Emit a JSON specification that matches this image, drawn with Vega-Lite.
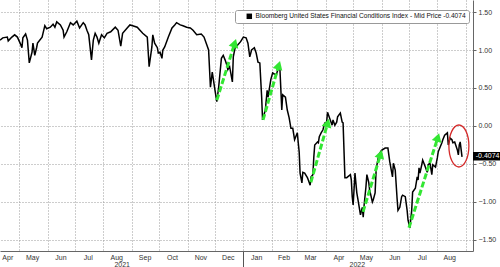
{
  "$schema": "https://vega.github.io/schema/vega-lite/v6.json",
  "width": 473,
  "height": 251,
  "autosize": {"type": "none"},
  "padding": {"left": 0, "top": 0, "right": 27, "bottom": 16},
  "background": "white",
  "config": {"view": {"stroke": null}, "font": "Liberation Sans"},
  "datasets": {
    "fci": [
      {"d":"2021-04-10","v":1.13},{"d":"2021-04-13","v":1.16},{"d":"2021-04-18","v":1.17},{"d":"2021-04-19","v":1.12},{"d":"2021-04-23","v":1.17},{"d":"2021-04-26","v":1.20},{"d":"2021-04-29","v":1.17},{"d":"2021-05-02","v":1.09},{"d":"2021-05-04","v":1.03},{"d":"2021-05-05","v":1.16},{"d":"2021-05-08","v":1.21},{"d":"2021-05-10","v":1.13},{"d":"2021-05-12","v":0.83},{"d":"2021-05-15","v":0.97},{"d":"2021-05-16","v":1.09},{"d":"2021-05-18","v":0.93},{"d":"2021-05-20","v":1.03},{"d":"2021-05-21","v":1.09},{"d":"2021-05-26","v":1.17},{"d":"2021-05-29","v":1.32},{"d":"2021-05-31","v":1.28},{"d":"2021-06-04","v":1.30},{"d":"2021-06-07","v":1.34},{"d":"2021-06-09","v":1.30},{"d":"2021-06-11","v":1.37},{"d":"2021-06-15","v":1.33},{"d":"2021-06-18","v":1.26},{"d":"2021-06-19","v":1.17},{"d":"2021-06-22","v":1.24},{"d":"2021-06-26","v":1.36},{"d":"2021-06-29","v":1.33},{"d":"2021-07-03","v":1.38},{"d":"2021-07-06","v":1.29},{"d":"2021-07-10","v":1.36},{"d":"2021-07-12","v":1.33},{"d":"2021-07-14","v":1.26},{"d":"2021-07-16","v":1.20},{"d":"2021-07-19","v":0.87},{"d":"2021-07-21","v":1.13},{"d":"2021-07-23","v":1.22},{"d":"2021-07-25","v":1.17},{"d":"2021-07-27","v":1.09},{"d":"2021-07-30","v":1.20},{"d":"2021-08-02","v":1.16},{"d":"2021-08-05","v":1.22},{"d":"2021-08-09","v":1.24},{"d":"2021-08-14","v":1.30},{"d":"2021-08-17","v":1.26},{"d":"2021-08-20","v":1.05},{"d":"2021-08-22","v":1.22},{"d":"2021-08-27","v":1.29},{"d":"2021-08-30","v":1.33},{"d":"2021-09-02","v":1.32},{"d":"2021-09-07","v":1.30},{"d":"2021-09-10","v":1.26},{"d":"2021-09-13","v":1.22},{"d":"2021-09-18","v":1.17},{"d":"2021-09-20","v":0.78},{"d":"2021-09-23","v":1.04},{"d":"2021-09-24","v":1.20},{"d":"2021-09-26","v":1.09},{"d":"2021-09-29","v":1.03},{"d":"2021-09-30","v":0.96},{"d":"2021-10-02","v":0.97},{"d":"2021-10-04","v":0.89},{"d":"2021-10-05","v":1.00},{"d":"2021-10-07","v":1.04},{"d":"2021-10-11","v":1.17},{"d":"2021-10-15","v":1.29},{"d":"2021-10-18","v":1.33},{"d":"2021-10-20","v":1.36},{"d":"2021-10-24","v":1.33},{"d":"2021-10-27","v":1.32},{"d":"2021-10-31","v":1.30},{"d":"2021-11-04","v":1.29},{"d":"2021-11-07","v":1.26},{"d":"2021-11-11","v":1.20},{"d":"2021-11-16","v":1.21},{"d":"2021-11-19","v":1.17},{"d":"2021-11-22","v":1.07},{"d":"2021-11-24","v":1.00},{"d":"2021-11-26","v":0.51},{"d":"2021-11-28","v":0.71},{"d":"2021-11-29","v":0.63},{"d":"2021-12-01","v":0.47},{"d":"2021-12-03","v":0.32},{"d":"2021-12-05","v":0.51},{"d":"2021-12-08","v":0.89},{"d":"2021-12-10","v":0.93},{"d":"2021-12-12","v":0.87},{"d":"2021-12-14","v":0.80},{"d":"2021-12-15","v":0.74},{"d":"2021-12-17","v":0.78},{"d":"2021-12-20","v":0.58},{"d":"2021-12-21","v":0.91},{"d":"2021-12-23","v":1.03},{"d":"2021-12-26","v":1.07},{"d":"2021-12-29","v":1.11},{"d":"2022-01-01","v":1.17},{"d":"2022-01-04","v":1.16},{"d":"2022-01-06","v":1.09},{"d":"2022-01-08","v":0.91},{"d":"2022-01-10","v":1.00},{"d":"2022-01-13","v":1.03},{"d":"2022-01-15","v":0.96},{"d":"2022-01-17","v":0.84},{"d":"2022-01-19","v":0.83},{"d":"2022-01-21","v":0.38},{"d":"2022-01-22","v":0.08},{"d":"2022-01-25","v":0.21},{"d":"2022-01-27","v":0.47},{"d":"2022-01-28","v":0.38},{"d":"2022-01-31","v":0.61},{"d":"2022-02-02","v":0.70},{"d":"2022-02-06","v":0.67},{"d":"2022-02-08","v":0.76},{"d":"2022-02-10","v":0.74},{"d":"2022-02-12","v":0.21},{"d":"2022-02-13","v":0.41},{"d":"2022-02-16","v":0.38},{"d":"2022-02-18","v":0.21},{"d":"2022-02-20","v":0.11},{"d":"2022-02-22","v":-0.03},{"d":"2022-02-24","v":-0.03},{"d":"2022-02-26","v":-0.18},{"d":"2022-03-01","v":-0.09},{"d":"2022-03-02","v":-0.22},{"d":"2022-03-03","v":-0.34},{"d":"2022-03-04","v":-0.62},{"d":"2022-03-06","v":-0.75},{"d":"2022-03-07","v":-0.61},{"d":"2022-03-09","v":-0.62},{"d":"2022-03-12","v":-0.68},{"d":"2022-03-13","v":-0.71},{"d":"2022-03-15","v":-0.78},{"d":"2022-03-16","v":-0.67},{"d":"2022-03-18","v":-0.64},{"d":"2022-03-19","v":-0.41},{"d":"2022-03-20","v":-0.25},{"d":"2022-03-23","v":-0.21},{"d":"2022-03-24","v":-0.22},{"d":"2022-03-25","v":-0.14},{"d":"2022-03-27","v":-0.09},{"d":"2022-03-29","v":-0.05},{"d":"2022-03-31","v":0.04},{"d":"2022-04-02","v":0.05},{"d":"2022-04-03","v":0.18},{"d":"2022-04-06","v":0.08},{"d":"2022-04-08","v":0.01},{"d":"2022-04-09","v":0.08},{"d":"2022-04-11","v":0.01},{"d":"2022-04-13","v":0.05},{"d":"2022-04-14","v":0.12},{"d":"2022-04-17","v":0.17},{"d":"2022-04-18","v":0.11},{"d":"2022-04-19","v":0.05},{"d":"2022-04-20","v":0.04},{"d":"2022-04-22","v":-0.68},{"d":"2022-04-24","v":-0.68},{"d":"2022-04-25","v":-0.67},{"d":"2022-04-28","v":-0.64},{"d":"2022-04-29","v":-0.71},{"d":"2022-04-30","v":-0.93},{"d":"2022-05-01","v":-1.04},{"d":"2022-05-03","v":-0.62},{"d":"2022-05-05","v":-0.88},{"d":"2022-05-06","v":-0.95},{"d":"2022-05-09","v":-1.17},{"d":"2022-05-11","v":-1.07},{"d":"2022-05-12","v":-1.20},{"d":"2022-05-13","v":-1.04},{"d":"2022-05-15","v":-0.80},{"d":"2022-05-16","v":-0.64},{"d":"2022-05-18","v":-0.74},{"d":"2022-05-19","v":-0.84},{"d":"2022-05-22","v":-1.00},{"d":"2022-05-23","v":-0.97},{"d":"2022-05-25","v":-0.88},{"d":"2022-05-26","v":-0.61},{"d":"2022-05-27","v":-0.51},{"d":"2022-05-29","v":-0.38},{"d":"2022-06-01","v":-0.32},{"d":"2022-06-05","v":-0.29},{"d":"2022-06-08","v":-0.29},{"d":"2022-06-10","v":-0.47},{"d":"2022-06-13","v":-0.67},{"d":"2022-06-14","v":-0.49},{"d":"2022-06-16","v":-0.58},{"d":"2022-06-18","v":-0.95},{"d":"2022-06-19","v":-1.11},{"d":"2022-06-21","v":-1.07},{"d":"2022-06-23","v":-0.93},{"d":"2022-06-24","v":-0.91},{"d":"2022-06-27","v":-0.93},{"d":"2022-06-29","v":-1.11},{"d":"2022-06-30","v":-1.24},{"d":"2022-07-02","v":-1.34},{"d":"2022-07-04","v":-1.11},{"d":"2022-07-05","v":-0.87},{"d":"2022-07-08","v":-0.82},{"d":"2022-07-10","v":-0.67},{"d":"2022-07-11","v":-0.71},{"d":"2022-07-12","v":-0.55},{"d":"2022-07-13","v":-0.62},{"d":"2022-07-15","v":-0.51},{"d":"2022-07-16","v":-0.45},{"d":"2022-07-18","v":-0.51},{"d":"2022-07-21","v":-0.61},{"d":"2022-07-22","v":-0.51},{"d":"2022-07-24","v":-0.49},{"d":"2022-07-26","v":-0.64},{"d":"2022-07-27","v":-0.51},{"d":"2022-07-30","v":-0.54},{"d":"2022-08-01","v":-0.42},{"d":"2022-08-02","v":-0.34},{"d":"2022-08-04","v":-0.28},{"d":"2022-08-06","v":-0.22},{"d":"2022-08-07","v":-0.18},{"d":"2022-08-09","v":-0.12},{"d":"2022-08-12","v":-0.09},{"d":"2022-08-13","v":-0.25},{"d":"2022-08-15","v":-0.16},{"d":"2022-08-17","v":-0.18},{"d":"2022-08-18","v":-0.22},{"d":"2022-08-20","v":-0.21},{"d":"2022-08-23","v":-0.32},{"d":"2022-08-24","v":-0.38},{"d":"2022-08-25","v":-0.25},{"d":"2022-08-26","v":-0.21},{"d":"2022-08-28","v":-0.4074}
    ],
    "arrows": [
      {"d":"2021-12-03T00:00:00Z","v":0.34,"d2":"2021-12-22T14:00:00Z","v2":1.09},
      {"d":"2022-01-22T12:00:00Z","v":0.08,"d2":"2022-02-08T17:00:00Z","v2":0.80},
      {"d":"2022-03-15T19:00:00Z","v":-0.74,"d2":"2022-04-03T05:00:00Z","v2":0.04},
      {"d":"2022-05-11T19:00:00Z","v":-1.13,"d2":"2022-05-31T00:00:00Z","v2":-0.37},
      {"d":"2022-07-01T00:00:00Z","v":-1.34,"d2":"2022-08-01T14:00:00Z","v2":-0.15}
    ],
    "heads": [
      {"d":"2021-12-22T14:00:00Z","v":1.09},
      {"d":"2022-02-08T17:00:00Z","v":0.80},
      {"d":"2022-04-03T05:00:00Z","v":0.04},
      {"d":"2022-05-31T00:00:00Z","v":-0.37},
      {"d":"2022-08-01T14:00:00Z","v":-0.15}
    ],
    "marker": [{"d":"2022-08-24T14:00:00Z","v":-0.263}],
    "lastbox": [{"d":"2022-09-09T00:00:00Z","d2":"2022-10-10T00:00:00Z","v":-0.342,"v2":-0.454}],
    "lasttext": [{"d":"2022-09-12T00:00:00Z","v":-0.398,"label":"-0.4074"}]
  },
  "encoding": {
    "x": {"field": "d", "type": "temporal",
      "scale": {"type": "utc", "domain": [{"year":2021,"month":4,"date":10,"utc":true},{"year":2022,"month":9,"date":9,"utc":true}]},
      "axis": {"orient": "bottom", "title": null,
        "grid": true, "gridDash": [1, 2], "gridColor": "#9a9a9a", "gridWidth": 1,
        "gridOpacity": {"condition": {"test": "utcdate(datum.value)==1", "value": 1}, "value": 0},
        "ticks": true, "tickSize": 16, "tickColor": "#555",
        "tickOpacity": {"condition": {"test": "utcdate(datum.value)==1 && utcmonth(datum.value)==0", "value": 1}, "value": 0},
        "domain": true, "domainColor": "#666", "domainWidth": 1,
        "labelExpr": "utcdate(datum.value)==1 ? '' : ((utcdate(datum.value)==21 && utcmonth(datum.value)==7) || (utcdate(datum.value)==5 && utcmonth(datum.value)==4)) ? ['', utcFormat(datum.value, '%Y')] : utcFormat(datum.value, '%b')",
        "labelFontSize": 7, "labelColor": "#333", "labelPadding": -14, "labelOverlap": false, "labelFlush": false, "labelBound": false, "labelLineHeight": 7.5,
        "values": [
          {"year":2021,"month":5,"date":1,"utc":true},{"year":2021,"month":6,"date":1,"utc":true},{"year":2021,"month":7,"date":1,"utc":true},{"year":2021,"month":8,"date":1,"utc":true},{"year":2021,"month":9,"date":1,"utc":true},{"year":2021,"month":10,"date":1,"utc":true},{"year":2021,"month":11,"date":1,"utc":true},{"year":2021,"month":12,"date":1,"utc":true},
          {"year":2022,"month":1,"date":1,"utc":true},{"year":2022,"month":2,"date":1,"utc":true},{"year":2022,"month":3,"date":1,"utc":true},{"year":2022,"month":4,"date":1,"utc":true},{"year":2022,"month":5,"date":1,"utc":true},{"year":2022,"month":6,"date":1,"utc":true},{"year":2022,"month":7,"date":1,"utc":true},{"year":2022,"month":8,"date":1,"utc":true},{"year":2022,"month":9,"date":1,"utc":true},
          {"year":2021,"month":4,"date":18,"utc":true},{"year":2021,"month":5,"date":15,"utc":true},{"year":2021,"month":6,"date":15,"utc":true},{"year":2021,"month":7,"date":15,"utc":true},{"year":2021,"month":8,"date":15,"utc":true},{"year":2021,"month":9,"date":15,"utc":true},{"year":2021,"month":10,"date":15,"utc":true},{"year":2021,"month":11,"date":15,"utc":true},{"year":2021,"month":12,"date":15,"utc":true},
          {"year":2022,"month":1,"date":15,"utc":true},{"year":2022,"month":2,"date":14,"utc":true},{"year":2022,"month":3,"date":15,"utc":true},{"year":2022,"month":4,"date":15,"utc":true},{"year":2022,"month":5,"date":15,"utc":true},{"year":2022,"month":6,"date":15,"utc":true},{"year":2022,"month":7,"date":15,"utc":true},{"year":2022,"month":8,"date":14,"utc":true},
          {"year":2021,"month":8,"date":21,"utc":true},{"year":2022,"month":5,"date":5,"utc":true}
        ]}},
    "y": {"field": "v", "type": "quantitative",
      "scale": {"domain": [-1.645, 1.658], "nice": false, "zero": false},
      "axis": {"orient": "right", "title": null, "values": [-1.5, -1, -0.5, 0, 0.5, 1, 1.5], "format": ".2f",
        "grid": true, "gridDash": [1, 2], "gridColor": "#9a9a9a", "gridWidth": 1,
        "tickSize": 3, "tickColor": "#666", "labelPadding": 2, "labelFontSize": 7, "labelColor": "#333",
        "domain": true, "domainColor": "#666", "domainWidth": 1}}
  },
  "layer": [
    {
      "data": {"name": "fci"},
      "mark": {"type": "line", "color": "#000", "strokeWidth": 1.5}
    },
    {
      "data": {"name": "arrows"},
      "mark": {"type": "rule", "color": "#33e633", "strokeWidth": 3, "strokeDash": [6, 2.5]},
      "encoding": {
        "x2": {"field": "d2"},
        "y2": {"field": "v2"}
      }
    },
    {
      "data": {"name": "heads"},
      "mark": {"type": "point", "shape": "triangle-up", "filled": true, "color": "#33e633", "opacity": 1, "size": 100, "angle": 17, "strokeWidth": 0}
    },
    {
      "data": {"name": "marker"},
      "mark": {"type": "point", "filled": false, "color": "#d42a2a", "strokeWidth": 1.3, "opacity": 1, "size": 1764,
        "shape": "M0,-1C0.263,-1 0.476,-0.552 0.476,0C0.476,0.552 0.263,1 0,1C-0.263,1 -0.476,0.552 -0.476,0C-0.476,-0.552 -0.263,-1 0,-1Z"}
    },
    {
      "data": {"name": "lastbox"},
      "mark": {"type": "rect", "clip": false},
      "encoding": {
        "x2": {"field": "d2"},
        "y2": {"field": "v2"},
        "color": {"datum": "Bloomberg United States Financial Conditions Index - Mid Price -0.4074",
          "scale": {"range": ["#000000"]},
          "legend": {"orient": "none", "legendX": 235, "legendY": 10, "title": null, "symbolType": "square", "symbolSize": 30,
            "symbolStrokeWidth": 0, "labelFontSize": 6.6, "labelColor": "#111", "labelLimit": 400,
            "fillColor": "#ffffff", "strokeColor": "#999999", "padding": 3, "cornerRadius": 2, "symbolOffset": 8, "labelOffset": 3}}
      }
    },
    {
      "data": {"name": "lasttext"},
      "mark": {"type": "text", "clip": false, "color": "#ffffff", "fontSize": 7, "align": "left", "baseline": "middle"},
      "encoding": {
        "text": {"field": "label"}
      }
    }
  ]
}
